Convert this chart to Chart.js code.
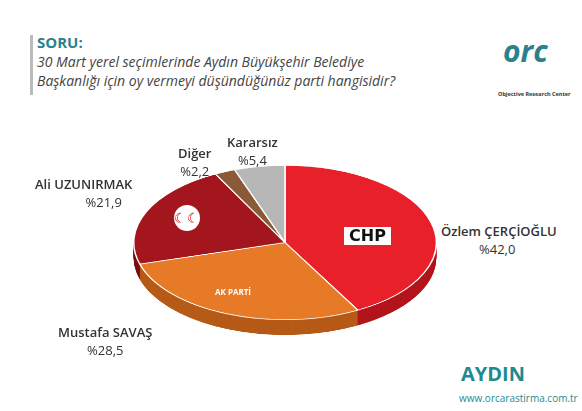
<!DOCTYPE html>
<html><head><meta charset="utf-8">
<script src="https://cdn.jsdelivr.net/npm/chart.js@4"></script>
<style>
body{margin:0;width:582px;height:411px;background:#fff;font-family:"Open Sans",sans-serif;position:relative;overflow:hidden}
.a{position:absolute;white-space:nowrap}
.lbl{font-size:13px;color:#333;text-align:center}
.lbl b{font-weight:600}
</style></head><body>
<div class="a" style="left:30px;top:35px;width:3px;height:60px;background:#bbb"></div>
<div class="a" style="left:37px;top:32px;font-size:15px;font-weight:bold;color:#2c7f8c">SORU:</div>
<div class="a" style="left:37px;top:52px;font-size:14px;font-style:italic;color:#444;line-height:19px">30 Mart yerel seçimlerinde Aydın Büyükşehir Belediye<br>Başkanlığı için oy vermeyi düşündüğünüz parti hangisidir?</div>
<div class="a" style="left:503px;top:30px;font-size:30px;font-weight:bold;color:#2c7f8c;font-style:italic">orc</div>
<div class="a" style="left:498px;top:90px;font-size:5.5px;font-weight:bold;color:#333">Objective Research Center</div>
<div class="a" style="left:461px;top:360px;font-size:20px;font-weight:bold;color:#1f8a8f">AYDIN</div>
<div class="a" style="left:459px;top:391px;font-size:10px;color:#1f8a8f">www.orcarastirma.com.tr</div>

<div class="a" id="wrap" style="left:133px;top:165px;width:304px;height:340px;transform:scaleY(0.51);transform-origin:top left">
<canvas id="pie" width="304" height="340"></canvas></div>

<div class="a lbl" style="left:441px;top:222px;text-align:left"><b>Özlem ÇERÇİOĞLU</b><br><span style="margin-left:38px">%42,0</span></div>
<div class="a lbl" style="left:58px;top:323px"><b>Mustafa SAVAŞ</b><br>%28,5</div>
<div class="a lbl" style="left:35px;top:175px"><b>Ali UZUNIRMAK</b><br><span style="margin-left:40px">%21,9</span></div>
<div class="a lbl" style="left:178px;top:144px"><b>Diğer</b><br>%2,2</div>
<div class="a lbl" style="left:227px;top:133px"><b>Kararsız</b><br>%5,4</div>
<div class="a" style="left:344px;top:227px;background:#fff;color:#111;font-weight:900;font-size:16px;line-height:18px;padding:0 5px;font-family:'DejaVu Sans'">CHP</div>
<div class="a" style="left:215px;top:286px;color:#fff;font-weight:bold;font-size:8px">AK PARTİ</div>
<div class="a" style="left:174px;top:205px;width:26px;height:26px;border-radius:50%;background:#fff;color:#c00;font-size:14px;text-align:center;line-height:26px">☾☾</div>
<script>
const parties = ['CHP', 'AK Parti', 'MHP', 'Diğer', 'Kararsız'];
const shares = [42.0, 28.5, 21.9, 2.2, 5.4];
const colors = ['#e8202a', '#e67a27', '#a3161e', '#8a5a36', '#b7b7b7'];
const sideColors = ['#b3141c', '#b65a17', '#7a0f15', '#644026', '#8e8e8e'];

// extrude the pie downwards to fake a 3D disc
const depth = {
  id: 'depth',
  beforeDatasetsDraw(chart) {
    const ctx = chart.ctx;
    const arcs = chart.getDatasetMeta(0).data;
    for (let d = 30; d > 0; d -= 1) {
      arcs.forEach((a, i) => {
        ctx.beginPath();
        ctx.moveTo(a.x, a.y + d);
        ctx.arc(a.x, a.y + d, a.outerRadius, a.startAngle, a.endAngle);
        ctx.closePath();
        ctx.fillStyle = sideColors[i];
        ctx.fill();
      });
    }
  }
};

new Chart(document.getElementById('pie'), {
  type: 'pie',
  data: { labels: parties, datasets: [{ data: shares, backgroundColor: colors, borderColor: '#fff', borderWidth: 1.5 }] },
  options: {
    responsive: false, animation: false,
    layout: { padding: { bottom: 36 } },
    plugins: { legend: { display: false }, tooltip: { enabled: false } }
  },
  plugins: [depth]
});
</script>
</body></html>
